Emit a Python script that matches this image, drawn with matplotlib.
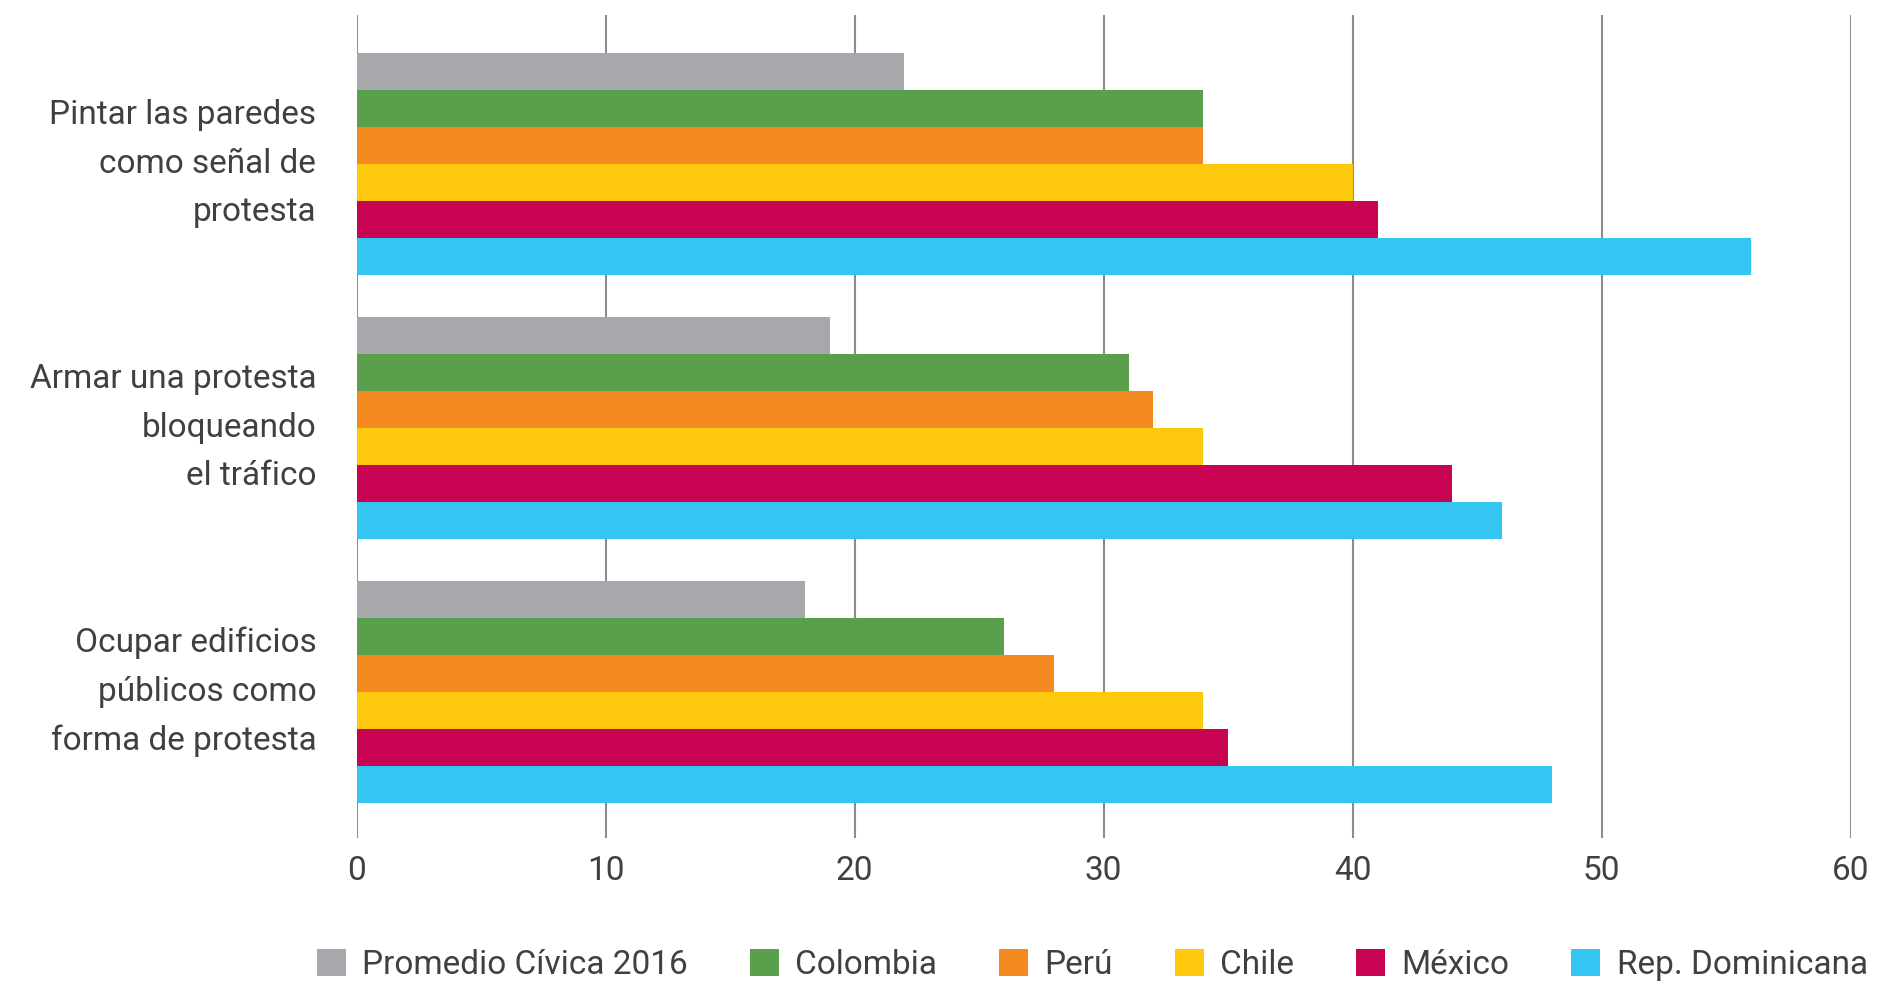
import matplotlib
matplotlib.use('Agg')
import matplotlib.pyplot as plt
import numpy as np

# datos
categorias = ['Pintar las paredes\ncomo señal de\nprotesta',
              'Armar una protesta\nbloqueando\nel tráfico',
              'Ocupar edificios\npúblicos como\nforma de protesta']
series = ['Promedio Cívica 2016', 'Colombia', 'Perú', 'Chile', 'México', 'Rep. Dominicana']
promedio = [22, 19, 18]
colombia = [34, 31, 26]
peru = [34, 32, 28]
chile = [40, 34, 34]
mexico = [41, 44, 35]
rep_dom = [56, 46, 48]
valores = [promedio, colombia, peru, chile, mexico, rep_dom]
colores = ['#A7A8AC', '#5AA04C', '#F58B20', '#FEC90C', '#C80452', '#34C5F2']
xticks = [0, 10, 20, 30, 40, 50, 60]

plt.rcParams['font.family'] = ['Roboto', 'DejaVu Sans']
texto = '#404040'

fig = plt.figure(figsize=(18.77, 9.82), dpi=100)
ax = fig.add_axes([0.190, 0.1466, 0.796, 0.8384])

y = np.arange(len(categorias))
h = 0.1406
for i, (v, c, s) in enumerate(zip(valores, colores, series)):
    ax.barh(y - 2.5 * h + i * h, v, height=h, color=c, label=s, zorder=3)

ax.set_xlim(0, 60)
ax.set_ylim(2.553, -0.565)
ax.set_xticks(xticks)
ax.set_yticks(y)
ax.set_yticklabels(categorias, fontsize=24, color=texto, linespacing=1.66, ha='right', va='center')
ax.tick_params(axis='y', length=0, pad=29)
ax.tick_params(axis='x', length=0, pad=12, labelsize=24, labelcolor=texto)
ax.grid(axis='x', color='#8C8C8C', linewidth=1.5, zorder=0)
for sp in ax.spines.values():
    sp.set_visible(False)

fig.legend(loc='lower center', bbox_to_anchor=(0.582, -0.03), ncol=6, frameon=False,
           fontsize=24, labelcolor=texto, handlelength=0.87, handleheight=0.87,
           handletextpad=0.5, columnspacing=1.85)

fig.savefig('out.png', dpi=100)
